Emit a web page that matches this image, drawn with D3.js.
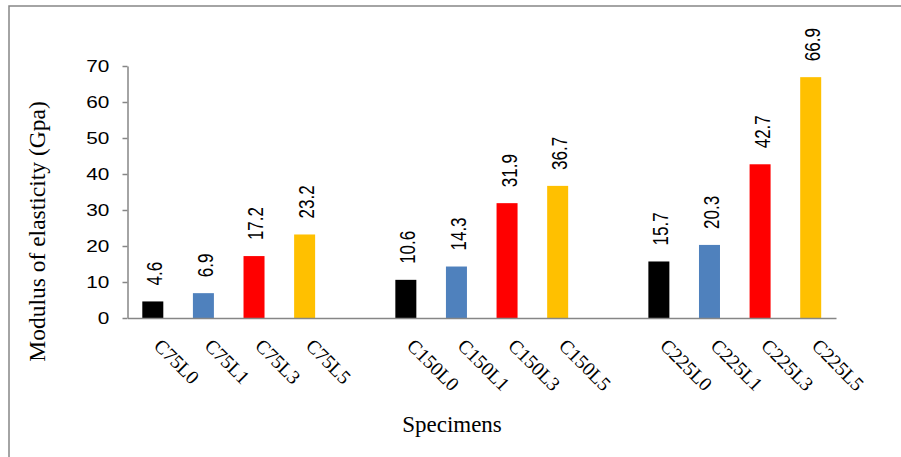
<!DOCTYPE html>
<html>
<head>
<meta charset="utf-8">
<script src="https://cdn.jsdelivr.net/npm/d3@7"></script>
<style>
  html, body { margin: 0; padding: 0; background: #fff; }
  svg { display: block; }
</style>
</head>
<body>
<svg id="chart" width="901" height="457"></svg>
<script>
const categories = ["C75L0","C75L1","C75L3","C75L5","","C150L0","C150L1","C150L3","C150L5","","C225L0","C225L1","C225L3","C225L5"];
const values = [4.6, 6.9, 17.2, 23.2, null, 10.6, 14.3, 31.9, 36.7, null, 15.7, 20.3, 42.7, 66.9];
const levels = ["L0","L1","L3","L5"];
const levelColors = ["#000000","#4F81BD","#FF0000","#FFC000"];
const yTicks = [0,10,20,30,40,50,60,70];
const yTitle = "Modulus of elasticity (Gpa)";
const xTitle = "Specimens";

const svg = d3.select("#chart");
const axisColor = "#868686";

// outer frame
svg.append("rect").attr("x", 9).attr("y", 6).attr("width", 900).attr("height", 460)
  .attr("fill", "none").attr("stroke", axisColor).attr("stroke-width", 1.5);

const x0 = 127.5, x1 = 836, yTop = 66, yBot = 318;
const x = d3.scaleBand().domain(d3.range(categories.length)).range([x0, x1])
  .paddingInner(0.585).paddingOuter(0.2925);
const y = d3.scaleLinear().domain([0, 70]).range([yBot, yTop]);
const color = d3.scaleOrdinal().domain(levels).range(levelColors);
const levelOf = c => c.slice(c.lastIndexOf("L"));

const data = categories.map((c, i) => ({c, v: values[i], i})).filter(d => d.c !== "" && d.v != null);

// bars
svg.append("g").selectAll("rect").data(data).join("rect")
  .attr("x", d => x(d.i)).attr("width", x.bandwidth())
  .attr("y", d => y(d.v)).attr("height", d => y(0) - y(d.v))
  .attr("fill", d => color(levelOf(d.c)));

// y axis
const yAxis = svg.append("g").attr("transform", `translate(${x0},0)`)
  .call(d3.axisLeft(y).tickValues(yTicks).tickSize(5).tickPadding(9).tickSizeOuter(0));
yAxis.select(".domain").attr("stroke", axisColor).attr("stroke-width", 1.5);
yAxis.selectAll(".tick line").attr("stroke", axisColor).attr("stroke-width", 1.5);
yAxis.selectAll(".tick text")
  .attr("font-family", "Liberation Sans, Arial, sans-serif").attr("font-size", 16)
  .attr("fill", "#000").attr("transform", "scale(1.3,1)").attr("dy", "0.36em");

// x axis line (no ticks)
const xAxis = svg.append("g").attr("transform", `translate(0,${yBot})`)
  .call(d3.axisBottom(x).tickSize(0).tickFormat(() => ""));
xAxis.select(".domain").attr("stroke", axisColor).attr("stroke-width", 1.5);

// x category labels, rotated 45deg
svg.append("g").selectAll("text").data(data).join("text")
  .attr("transform", d => `translate(${x(d.i) + x.bandwidth()/2},${yBot + 29}) rotate(45)`)
  .attr("font-family", "Liberation Serif, Times New Roman, serif").attr("font-size", 19.5)
  .attr("fill", "#000").text(d => d.c);

// value labels, rotated -90
svg.append("g").selectAll("text").data(data).join("text")
  .attr("transform", d => `translate(${x(d.i) + x.bandwidth()/2 + 1.5},${y(d.v) - 16}) scale(1.3,1) rotate(-90)`)
  .attr("dy", "0.36em")
  .attr("font-family", "Liberation Sans, Arial, sans-serif").attr("font-size", 17)
  .attr("fill", "#000").text(d => d.v.toFixed(1));

// axis titles
svg.append("text")
  .attr("transform", `translate(45,${(100 + 363) / 2}) rotate(-90)`)
  .attr("text-anchor", "middle")
  .attr("font-family", "Liberation Serif, Times New Roman, serif").attr("font-size", 23.5)
  .attr("fill", "#000").text(yTitle);

svg.append("text")
  .attr("x", 452).attr("y", 432).attr("text-anchor", "middle")
  .attr("font-family", "Liberation Serif, Times New Roman, serif").attr("font-size", 23)
  .attr("fill", "#000").text(xTitle);
</script>
</body>
</html>
